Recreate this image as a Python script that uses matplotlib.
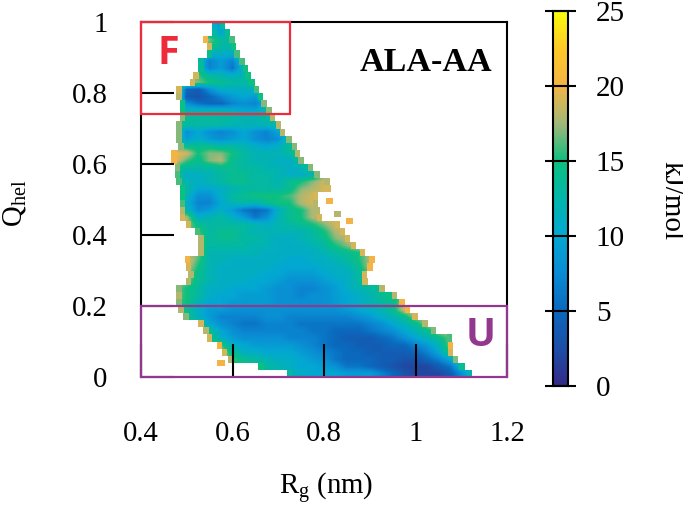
#!/usr/bin/python

import numpy as np
import matplotlib
matplotlib.use("Agg")
import matplotlib.pyplot as plt
from matplotlib.colors import LinearSegmentedColormap, Normalize
from matplotlib.patches import Polygon, Rectangle

plt.rcParams['font.family'] = ['Liberation Serif', 'DejaVu Serif']
plt.rcParams['mathtext.fontset'] = 'custom'
plt.rcParams['mathtext.rm'] = 'Liberation Serif'

#-----------------------------------------------
# data

rg_cols = [0.45 + 0.025 * i for i in range(28)]
q_rows = [0.99 - 0.02 * i for i in range(50)]

# occupied Rg range of every Q row (top to bottom)
rg_left = [.555, .555, .535, .544, .544, .525, .525, .514, .507, .477,
           .477, .485, .485, .485, .477, .477, .477, .481, .466, .466,
           .474, .474, .477, .485, .485, .485, .485, .485, .498, .518,
           .525, .525, .525, .496, .498, .503, .498, .477, .477, .477,
           .481, .492, .525, .536, .544, .566, .577, .590, .656, .719]
rg_right = [.584, .595, .605, .608, .616, .627, .634, .640, .649, .658,
            .667, .675, .686, .693, .706, .715, .730, .741, .748, .756,
            .776, .791, .813, .815, .787, .787, .791, .796, .835, .846,
            .857, .870, .890, .911, .907, .894, .896, .933, .960, .977,
            .988, 1.005, 1.027, 1.045, 1.080, 1.082, 1.082, 1.093, 1.108, 1.124]

# free energy of the outermost cell on each side of every row
rim_left = [11, 13, 20, 19, 14, 13, 14, 19, 19, 19,
            18, 15, 15, 17, 17, 17, 17, 17, 20, 20,
            17, 16, 16, 15, 15, 16, 18, 19, 19, 16,
            18, 18, 18, 20, 19, 18, 18, 17, 18, 17,
            18, 17, 19, 18, 19, 20, 19, 18, 15, 13]
rim_right = [13, 14, 16, 15, 16, 16, 15, 15, 15, 16,
             15, 17, 17, 18, 18, 18, 17, 17, 18, 17,
             17, 17, 18, 19, 19, 18, 18, 19, 19, 19,
             19, 19, 19, 20, 20, 19, 19, 18, 18, 20,
             20, 19, 18, 17, 16, 20, 19, 17, 14, 12]

# first rg_cols index of every row, then the free energy in kJ/mol
row_start = [4, 4, 3, 3, 3, 3, 3, 2, 2, 1,
             1, 1, 1, 1, 1, 1, 1, 1, 1, 1,
             1, 1, 1, 1, 1, 1, 1, 2, 2, 3,
             3, 3, 3, 2, 2, 2, 2, 1, 1, 1,
             1, 2, 3, 4, 4, 5, 5, 6, 8, 10]
row_energy = [
    [10, 9, 14],
    [12, 10, 14],
    [20, 17, 13, 14],
    [19, 15, 13, 12],
    [14, 11, 11, 11, 14],
    [12, 7, 9, 7, 13],
    [13, 7, 9, 6, 12],
    [18, 16, 13, 12, 11, 12, 14],
    [18, 17, 15, 14, 13, 13, 14],
    [19, 5, 4, 8, 11, 11, 11, 12, 14],
    [19, 4, 3, 5, 7, 9, 10, 9, 13],
    [15, 8, 6, 5, 5, 7, 8, 7, 11],
    [15, 12, 12, 12, 12, 11, 10, 10, 13],
    [16, 14, 13, 13, 13, 13, 12, 12, 13, 14],
    [17, 13, 13, 13, 13, 12, 12, 12, 12, 13, 15],
    [15, 8, 10, 8, 7, 8, 10, 8, 7, 10],
    [15, 9, 11, 9, 8, 9, 10, 8, 7, 8, 14],
    [16, 14, 14, 14, 13, 13, 12, 11, 10, 11, 14],
    [20, 19, 15, 17, 17, 15, 13, 12, 12, 12, 13, 16],
    [20, 16, 14, 17, 18, 14, 13, 12, 12, 11, 11, 14],
    [15, 13, 13, 13, 14, 14, 13, 13, 12, 12, 11, 12, 15],
    [15, 11, 11, 12, 13, 14, 14, 13, 13, 12, 11, 11, 12, 16],
    [15, 12, 11, 12, 13, 14, 14, 13, 13, 12, 14, 15, 17, 19],
    [15, 13, 10, 10, 11, 12, 13, 13, 13, 13, 14, 17, 18, 19],
    [14, 12, 8, 8, 11, 13, 14, 15, 15, 15, 16, 18, 19],
    [14, 11, 7, 7, 10, 12, 13, 12, 14, 15, 15, 18, 19],
    [16, 12, 8, 9, 11, 9, 6, 5, 6, 11, 14, 15, 18],
    [18, 11, 12, 13, 11, 9, 6, 8, 12, 14, 15, 18, 19],
    [18, 14, 13, 13, 13, 13, 12, 11, 12, 13, 14, 15, 17, 19],
    [16, 13, 14, 14, 13, 12, 12, 12, 12, 12, 13, 15, 18, 19],
    [17, 13, 14, 14, 13, 13, 12, 11, 11, 12, 13, 14, 17, 18],
    [17, 13, 13, 13, 13, 12, 12, 11, 11, 11, 12, 13, 15, 17, 19],
    [17, 12, 12, 12, 12, 12, 11, 11, 11, 11, 11, 12, 13, 14, 15, 18],
    [20, 16, 12, 12, 11, 11, 11, 11, 11, 10, 10, 11, 11, 12, 13, 15, 18],
    [19, 15, 12, 11, 11, 11, 11, 11, 10, 10, 10, 10, 11, 11, 12, 14, 18],
    [17, 14, 12, 11, 11, 11, 11, 10, 10, 9, 9, 9, 10, 11, 11, 13, 16],
    [17, 14, 12, 11, 11, 11, 10, 10, 9, 8, 8, 8, 9, 10, 11, 13, 15],
    [17, 15, 13, 11, 11, 10, 10, 10, 9, 8, 8, 7, 7, 8, 9, 11, 12, 13, 14],
    [17, 15, 13, 11, 10, 10, 9, 9, 9, 8, 8, 7, 8, 8, 9, 10, 11, 12, 14, 15],
    [16, 15, 12, 10, 10, 9, 9, 9, 9, 8, 8, 8, 8, 8, 9, 10, 11, 12, 13, 14, 18],
    [16, 14, 11, 9, 9, 8, 8, 8, 8, 8, 8, 8, 8, 8, 8, 9, 10, 11, 12, 14, 19],
    [15, 11, 9, 7, 7, 7, 7, 8, 8, 7, 7, 7, 7, 7, 7, 8, 9, 11, 12, 14, 18],
    [15, 10, 8, 7, 6, 6, 7, 7, 7, 6, 6, 6, 6, 6, 6, 7, 8, 10, 12, 14, 18],
    [14, 10, 8, 7, 7, 7, 7, 7, 7, 6, 6, 5, 5, 5, 6, 7, 8, 10, 12, 14, 18],
    [15, 11, 9, 8, 8, 8, 8, 7, 7, 7, 6, 5, 4, 4, 4, 5, 6, 8, 10, 12, 14, 17],
    [16, 11, 10, 9, 9, 9, 9, 8, 7, 6, 5, 5, 4, 4, 4, 5, 5, 7, 9, 12, 17],
    [18, 14, 11, 11, 10, 10, 10, 9, 8, 7, 6, 5, 5, 4, 4, 4, 4, 5, 7, 10, 16],
    [16, 14, 13, 12, 11, 11, 10, 9, 8, 6, 5, 5, 5, 4, 4, 3, 3, 5, 7, 10, 16],
    [14, 13, 12, 11, 10, 10, 9, 8, 6, 6, 5, 4, 3, 2, 2, 2, 4, 6, 12],
    [13, 12, 11, 10, 10, 10, 9, 9, 9, 7, 5, 3, 2, 2, 2, 4, 8, 12],
]

# stray cells outside the main outline
stray_rg = [0.812, 0.830, 0.855, 0.575]
stray_q = [0.495, 0.460, 0.440, 0.040]
stray_energy = [20, 18, 20, 20]

rg_ticks = [0.4, 0.6, 0.8, 1.0, 1.2]
rg_ticklabels = ["0.4", "0.6", "0.8", "1", "1.2"]
q_ticks = [0, 0.2, 0.4, 0.6, 0.8, 1]
q_ticklabels = ["0", "0.2", "0.4", "0.6", "0.8", "1"]
cbar_ticks = [0, 5, 10, 15, 20, 25]

#-----------------------------------------------
# colour scale

cmap = LinearSegmentedColormap.from_list("fes", [
    (0.0, "#352a87"), (0.1, "#1c4fa8"), (0.2, "#0b68bd"), (0.3, "#0a8bd4"),
    (0.4, "#03a8d2"), (0.5, "#02b6ab"), (0.6, "#0cc080"), (0.7, "#a0b878"),
    (0.8, "#f3b445"), (0.9, "#fec828"), (1.0, "#f9fb0e")])
norm = Normalize(0, 25)

#-----------------------------------------------
# full matrix, rows continued sideways so that the outline does the masking

energy = np.zeros((len(q_rows), len(rg_cols)))
for i, vals in enumerate(row_energy):
    s = row_start[i]
    energy[i, :s] = vals[0]
    energy[i, s:s + len(vals)] = vals
    energy[i, s + len(vals):] = vals[-1]

fig = plt.figure(figsize=(6.83, 5.13), dpi=100)
W, H = 683.0, 513.0
ax = fig.add_axes([141 / W, 1 - 377 / H, 366 / W, 355 / H])

im = ax.imshow(energy, cmap=cmap, norm=norm, interpolation='bilinear', aspect='auto',
               extent=[rg_cols[0] - 0.0125, rg_cols[-1] + 0.0125, 0, 1], zorder=1)

# stepped outline of the sampled region
verts = []
for i in range(len(q_rows)):
    verts.append((rg_right[i], q_rows[i] + 0.01))
    verts.append((rg_right[i], q_rows[i] - 0.01))
for i in range(len(q_rows) - 1, -1, -1):
    verts.append((rg_left[i], q_rows[i] - 0.01))
    verts.append((rg_left[i], q_rows[i] + 0.01))
outline = Polygon(verts, closed=True, transform=ax.transData, fill=False, edgecolor='none')
ax.add_patch(outline)
im.set_clip_path(outline)

# rim cells
cell = 0.012
for i in range(len(q_rows)):
    ax.add_patch(Rectangle((rg_left[i], q_rows[i] - 0.01), cell, 0.02, color=cmap(norm(rim_left[i])), lw=0, zorder=1.5))
    ax.add_patch(Rectangle((rg_right[i] - cell, q_rows[i] - 0.01), cell, 0.02, color=cmap(norm(rim_right[i])), lw=0, zorder=1.5))

for r, q, e in zip(stray_rg, stray_q, stray_energy):
    ax.add_patch(Rectangle((r - 0.008, q - 0.008), 0.016, 0.016, color=cmap(norm(e)), lw=0, zorder=1))

ax.set_xlim(0.4, 1.2)
ax.set_ylim(0, 1)
ax.set_xticks(rg_ticks)
ax.set_xticklabels(rg_ticklabels)
ax.set_yticks(q_ticks)
ax.set_yticklabels(q_ticklabels)
ax.tick_params(axis='x', direction='in', length=24, width=1.5, pad=32, labelsize=20.7, color='black')
ax.tick_params(axis='y', direction='in', length=24, width=1.5, pad=24, labelsize=20.7, color='black')
ax.spines['bottom'].set_visible(False)
for s in ['top', 'left', 'right']:
    ax.spines[s].set_linewidth(1.5)

ax.add_patch(Rectangle((0.4, 0.74), 0.325, 0.26, fill=False, edgecolor='#ee2b3a', lw=1.6, zorder=5, clip_on=False))
ax.add_patch(Rectangle((0.4, 0.0), 0.8, 0.2, fill=False, edgecolor='#93388f', lw=1.6, zorder=5, clip_on=False))

ax.text(0.459, 0.91, "F", color='#ee2b3a', family='Open Sans', weight='bold', fontsize=28.5, ha='center', va='center')
ax.text(1.143, 0.117, "U", color='#93388f', family='Open Sans', weight='bold', fontsize=28.5, ha='center', va='center')
ax.text(1.023, 0.887, "ALA-AA", color='black', weight='bold', fontsize=24.5, ha='center', va='center')

fig.text(326 / W, 1 - 488 / H, r"R$_{\mathrm{g}}$ (nm)", fontsize=20.7, ha='center', va='center')
fig.text(15 / W, 1 - 203 / H, r"Q$_{\mathrm{hel}}$", fontsize=20.7, rotation=90, ha='center', va='center')
fig.text(671 / W, 1 - 201 / H, "kJ/mol", fontsize=21, rotation=270, ha='center', va='center')

#-----------------------------------------------
# colour bar

cax = fig.add_axes([553 / W, 1 - 386 / H, 15 / W, 375 / H])
cb = fig.colorbar(im, cax=cax)
cb.set_ticks(cbar_ticks)
cb.ax.yaxis.set_ticks_position('both')
cb.ax.tick_params(direction='out', length=6, width=1.5, pad=14, labelsize=21, labelleft=False, labelright=True)
for v in cbar_ticks:
    cb.ax.plot([0, 1], [v, v], color='black', lw=1.5, clip_on=False, zorder=6)
cb.outline.set_linewidth(1.5)

fig.savefig("out.png", dpi=100)
